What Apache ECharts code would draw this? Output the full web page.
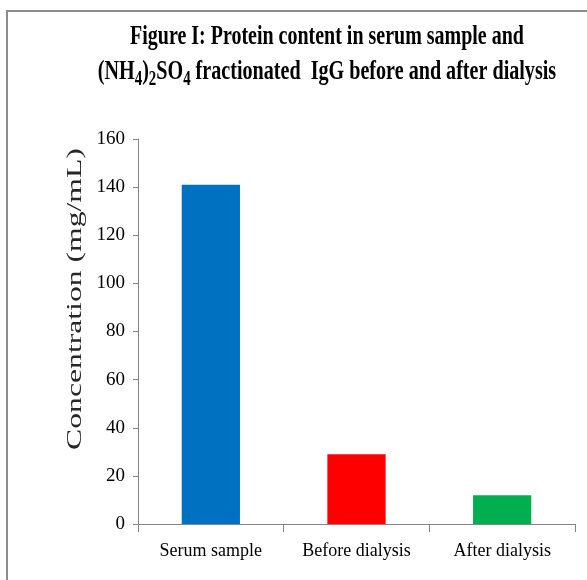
<!DOCTYPE html>
<html><head><meta charset="utf-8">
<script src="https://cdn.jsdelivr.net/npm/echarts@6/dist/echarts.min.js"></script>
<style>html,body{margin:0;padding:0;background:#fff}#c{width:587px;height:580px}</style>
</head><body><div id="c"></div>
<script>
// ---- data ----
const categories = ['Serum sample', 'Before dialysis', 'After dialysis'];
const values = [141, 29, 12];
const barColors = ['#0070C0', '#FF0000', '#00B050'];
const yMin = 0, yMax = 160, yInterval = 20;
const titleLine1 = 'Figure I: Protein content in serum sample and';
const titleLine2Rich = '{b|(NH}{s|4}{b|)}{s|2}{b|SO}{s|4}{b| fractionated  IgG before and after dialysis}';
const yAxisName = 'Concentration (mg/mL)';

// ---- chart ----
const chart = echarts.init(document.getElementById('c'), null, {renderer: 'canvas'});
const serif = '"Liberation Serif", "Times New Roman", serif';
const axisGray = '#868686';

chart.setOption({
  backgroundColor: '#ffffff',
  animation: false,
  grid: {left: 138, top: 139, right: 12, bottom: 56, containLabel: false, outerBoundsMode: 'none'},
  xAxis: {
    type: 'category',
    data: categories,
    axisLine: {show: true, lineStyle: {color: axisGray, width: 1}},
    axisTick: {show: true, length: 8, lineStyle: {color: axisGray}},
    axisLabel: {fontFamily: serif, fontSize: 18, color: '#000', margin: 18}
  },
  yAxis: {
    type: 'value',
    min: yMin, max: yMax, interval: yInterval,
    splitLine: {show: false},
    axisLine: {show: true, lineStyle: {color: axisGray, width: 1}},
    axisTick: {show: true, length: 5, lineStyle: {color: axisGray}},
    axisLabel: {fontFamily: serif, fontSize: 19, color: '#000', margin: 13}
  },
  series: [{
    type: 'bar',
    barWidth: '40%',
    data: values.map((v, i) => ({value: v, itemStyle: {color: barColors[i]}}))
  }],
  graphic: [
    {type: 'line', shape: {x1: 6, y1: 11, x2: 587, y2: 11}, style: {stroke: '#8c8c8c', lineWidth: 2}},
    {type: 'line', shape: {x1: 7, y1: 10, x2: 7, y2: 580}, style: {stroke: '#8c8c8c', lineWidth: 2}},
    {type: 'text', x: 327, y: 37, scaleX: 0.74,
      style: {text: titleLine1, font: 'bold 27px ' + serif, fill: '#000',
        align: 'center', verticalAlign: 'middle', textAlign: 'center', textVerticalAlign: 'middle'}},
    {type: 'text', x: 327, y: 72, scaleX: 0.745,
      style: {text: titleLine2Rich, fill: '#000',
        align: 'center', verticalAlign: 'middle', textAlign: 'center', textVerticalAlign: 'middle',
        rich: {
          b: {fontSize: 27, fontWeight: 'bold', fontFamily: serif, lineHeight: 35, verticalAlign: 'middle', fill: '#000', color: '#000'},
          s: {fontSize: 20, fontWeight: 'bold', fontFamily: serif, lineHeight: 20, verticalAlign: 'bottom', fill: '#000', color: '#000'}
        }}},
    {type: 'text', x: 75, y: 299, rotation: Math.PI / 2, scaleX: 1.44,
      style: {text: yAxisName, font: '22px ' + serif, fill: '#262626',
        align: 'center', verticalAlign: 'middle', textAlign: 'center', textVerticalAlign: 'middle'}}
  ]
});
</script>
</body></html>
